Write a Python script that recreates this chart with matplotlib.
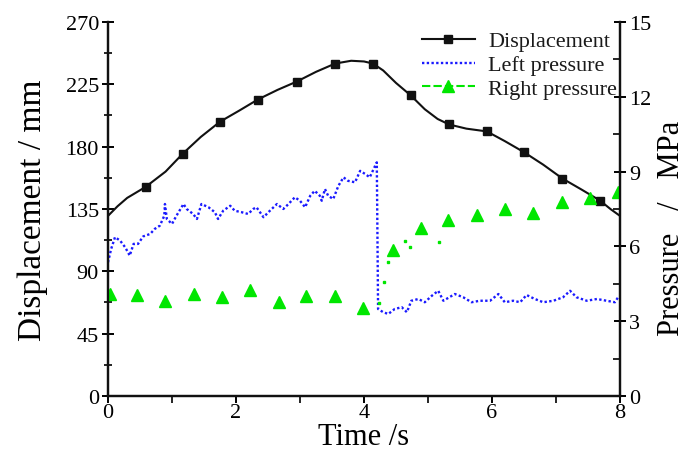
import matplotlib
matplotlib.use('Agg')
import matplotlib.pyplot as plt
from matplotlib.lines import Line2D
from matplotlib.ticker import MultipleLocator

plt.rcParams['font.family'] = ['Liberation Serif', 'DejaVu Serif']
plt.rcParams['text.color'] = '#1a1a1a'

# Displacement curve (mm) and its square markers
disp_t = [0.0, 0.15, 0.3, 0.59, 0.9, 1.17, 1.45, 1.75, 2.05, 2.34, 2.65, 2.95,
          3.25, 3.55, 3.8, 4.0, 4.14, 4.3, 4.5, 4.73, 4.95, 5.15, 5.33, 5.6,
          5.92, 6.2, 6.5, 6.8, 7.1, 7.4, 7.69, 7.85, 8.0]
disp_mm = [130, 137, 143, 151, 162, 175, 187, 198, 206, 214, 221, 227,
           234, 240, 242, 241.5, 240, 235, 226, 217, 207, 200, 196, 193,
           191, 184, 176, 167, 157, 149, 141, 135, 130]
disp_mark_t = [0.59, 1.17, 1.75, 2.34, 2.95, 3.55, 4.14, 4.73, 5.33, 5.92, 6.5, 7.1, 7.69]
disp_mark_mm = [151, 175, 198, 214, 227, 240, 240, 217, 196, 191, 176, 157, 141]

# Left pressure (MPa), noisy trace
left_t = [0.0, 0.05, 0.11, 0.19, 0.27, 0.34, 0.4, 0.47, 0.55, 0.66, 0.73, 0.81,
          0.88, 0.89, 0.92, 1.0, 1.07, 1.18, 1.23, 1.33, 1.39, 1.46, 1.57, 1.67,
          1.72, 1.8, 1.91, 1.98, 2.09, 2.19, 2.27, 2.32, 2.43, 2.53, 2.64, 2.74,
          2.82, 2.92, 3.0, 3.08, 3.16, 3.23, 3.31, 3.34, 3.39, 3.44, 3.52, 3.6,
          3.68, 3.75, 3.86, 3.94, 4.02, 4.09, 4.15, 4.2, 4.21, 4.22, 4.3, 4.38,
          4.48, 4.59, 4.67, 4.74, 4.85, 4.95, 5.06, 5.16, 5.24, 5.42, 5.55, 5.68,
          5.81, 5.97, 6.1, 6.2, 6.33, 6.44, 6.54, 6.67, 6.8, 6.96, 7.11, 7.22,
          7.32, 7.48, 7.64, 7.79, 7.92, 7.97]
left_p = [5.36, 5.9, 6.37, 6.23, 5.96, 5.63, 6.1, 6.1, 6.4, 6.5, 6.7, 6.83,
          7.23, 7.7, 7.1, 6.9, 7.23, 7.7, 7.5, 7.3, 7.1, 7.7, 7.57, 7.37,
          7.1, 7.43, 7.63, 7.43, 7.37, 7.3, 7.5, 7.57, 7.17, 7.43, 7.7, 7.5,
          7.7, 7.97, 7.83, 7.57, 8.03, 8.23, 8.03, 7.83, 8.3, 8.03, 7.9, 8.43,
          8.77, 8.63, 8.57, 9.03, 8.9, 8.77, 9.1, 9.37, 6.5, 3.49, 3.36, 3.29,
          3.49, 3.56, 3.36, 3.82, 3.89, 3.76, 4.02, 4.22, 3.82, 4.09, 3.96, 3.76,
          3.82, 3.82, 4.09, 3.76, 3.82, 3.76, 4.05, 3.89, 3.76, 3.82, 3.96, 4.22,
          3.96, 3.82, 3.89, 3.82, 3.76, 3.96]

# Right pressure (MPa): triangle markers and the few visible trace pieces
right_t = [0.03, 0.46, 0.89, 1.34, 1.78, 2.22, 2.67, 3.1, 3.55, 3.99,
           4.45, 4.89, 5.32, 5.77, 6.2, 6.64, 7.09, 7.53, 7.97]
right_p = [4.09, 4.05, 3.8, 4.08, 3.98, 4.24, 3.78, 4.0, 4.0, 3.53,
           5.87, 6.73, 7.07, 7.26, 7.5, 7.34, 7.77, 7.94, 8.2]
right_trace_t = [4.23, 4.31, 4.37, 4.64, 4.72, 5.17]
right_trace_p = [3.73, 4.56, 5.39, 6.23, 5.99, 6.19]

BLACK = '#111111'
BLUE = '#1a1aff'
GREEN = '#00e600'

fig = plt.figure(figsize=(6.86, 4.56), dpi=100)
ax = fig.add_axes([0.1574, 0.1294, 0.7464, 0.8202])
ax2 = ax.twinx()

ax.plot(disp_t, disp_mm, color=BLACK, lw=1.5, zorder=3)
ax.plot(disp_mark_t, disp_mark_mm, ls='none', marker='s', ms=6,
        color=BLACK, zorder=4)

ax2.plot(left_t, left_p, color=BLUE, lw=1.7, ls=(0, (1, 1)))
ax2.plot(right_t, right_p, ls='none', marker='^', ms=9, color=GREEN)
ax2.plot(right_trace_t, right_trace_p, ls='none', marker='s', ms=2, color=GREEN)

ax.set_xlim(0, 8)
ax.set_ylim(0, 270)
ax2.set_ylim(0, 15)

ax.xaxis.set_major_locator(MultipleLocator(2))
ax.xaxis.set_minor_locator(MultipleLocator(1))
ax.yaxis.set_major_locator(MultipleLocator(45))
ax.yaxis.set_minor_locator(MultipleLocator(22.5))
ax2.yaxis.set_major_locator(MultipleLocator(3))
ax2.yaxis.set_minor_locator(MultipleLocator(1.5))

for a in (ax, ax2):
    a.spines['top'].set_visible(False)
    for s in a.spines.values():
        s.set_linewidth(1.6)
        s.set_color(BLACK)

ax.tick_params(axis='y', which='major', direction='inout', length=9, width=1.4,
               labelsize=16, pad=2)
ax.tick_params(axis='y', which='minor', direction='inout', length=6, width=1.2)
ax.tick_params(axis='x', which='major', direction='out', length=5, width=1.4,
               labelsize=16, pad=0)
ax.tick_params(axis='x', which='minor', direction='out', length=5, width=1.2)
ax2.tick_params(axis='y', which='major', direction='inout', length=9, width=1.4,
                labelsize=16, pad=2)
ax2.tick_params(axis='y', which='minor', direction='in', length=5, width=1.2)

ax.set_xlabel('Time /s', fontsize=22, labelpad=0)
ax.set_ylabel('Displacement / mm', fontsize=24)
ax.yaxis.set_label_coords(-0.118, 0.5)
ax2.set_ylabel('Pressure   /   MPa', fontsize=22)
ax2.yaxis.set_label_coords(1.072, 0.45)

handles = [
    Line2D([], [], color=BLACK, lw=1.5, marker='s', ms=6),
    Line2D([], [], color=BLUE, lw=1.7, ls=(0, (1, 1))),
    Line2D([], [], color=GREEN, lw=1.5, ls=(0, (4, 1.5)), marker='^', ms=9),
]
ax.legend(handles, ['Displacement', 'Left pressure', 'Right pressure'],
          loc='upper right', bbox_to_anchor=(1.012, 1.0), frameon=False,
          fontsize=16, handlelength=2.4, handletextpad=0.6, labelspacing=0.15,
          borderaxespad=0)

fig.savefig('out.png', dpi=100, facecolor='white')
